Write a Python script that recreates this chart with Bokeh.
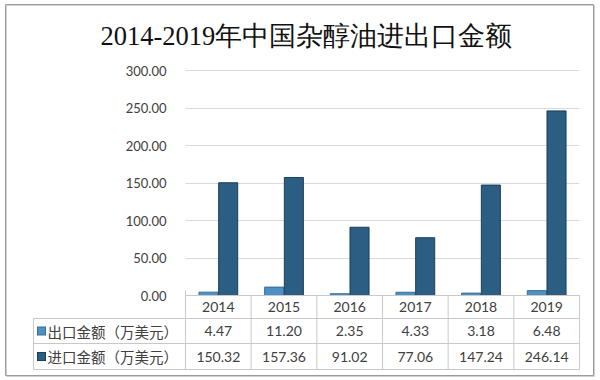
from bokeh.plotting import figure
from bokeh.models import Range1d, FixedTicker, NumeralTickFormatter, ColumnDataSource
from bokeh.core.properties import value
from bokeh.embed import file_html
from bokeh.resources import INLINE

# ---------------- data ----------------
title_text = "2014-2019年中国杂醇油进出口金额"
years = ["2014", "2015", "2016", "2017", "2018", "2019"]
export_vals = [4.47, 11.20, 2.35, 4.33, 3.18, 6.48]
import_vals = [150.32, 157.36, 91.02, 77.06, 147.24, 246.14]
series_names = ["出口金额（万美元）", "进口金额（万美元）"]
y_ticks = [0, 50, 100, 150, 200, 250, 300]

# ---------------- styling / layout ----------------
EXP_FILL, EXP_LINE = "#4f90c3", "#356f9c"
IMP_FILL, IMP_LINE = "#2b5e82", "#1a3f58"
TXT = "#404040"
GRID = "#d9d9d9"
TABLE_LINE = "#c8c8c8"
NUM_FONT = value("Lato")
CJK_FONT = value("Noto Sans CJK SC")

W, H = 598, 378
FRAME_L, FRAME_R = 185, 579
FRAME_T, FRAME_B = 68, 371
ZERO_Y = 295               # pixel row of value 0
n = len(years)
PX_X = (FRAME_R - FRAME_L) / n   # px per category
PX_Y = (ZERO_Y - 70) / 300       # px per value unit (300 sits at y=70)


def ydata(py):
    """data y for pixel row py"""
    return (ZERO_Y - py) / PX_Y


def xdata(px):
    """data x for pixel column px"""
    return (px - FRAME_L) / PX_X


row_bounds = [ydata(295), ydata(318), ydata(343), ydata(369)]
row_centers = [(row_bounds[i] + row_bounds[i + 1]) / 2 for i in range(3)]
label_left = xdata(33)

p = figure(
    width=W, height=H,
    frame_width=FRAME_R - FRAME_L, frame_height=FRAME_B - FRAME_T,
    min_border_left=FRAME_L, min_border_right=W - FRAME_R,
    min_border_top=FRAME_T, min_border_bottom=H - FRAME_B,
    x_range=Range1d(0, n), y_range=Range1d(ydata(FRAME_B), ydata(FRAME_T)),
    x_axis_location=None,
    output_backend="svg", toolbar_location=None, title=title_text,
)
p.background_fill_color = "white"
p.border_fill_color = "white"
p.outline_line_color = None

p.title.align = "left"
p.title.offset = -85
p.title.text_font = "Liberation Serif"
p.title.text_font_style = "normal"
p.title.text_font_size = "26.5px"
p.title.text_color = "#111111"
p.title.standoff = 36

p.xgrid.visible = False
p.ygrid.ticker = FixedTicker(ticks=y_ticks)
p.ygrid.grid_line_color = GRID

yax = p.yaxis[0]
yax.ticker = FixedTicker(ticks=y_ticks)
yax.formatter = NumeralTickFormatter(format="0.00")
yax.axis_line_color = None
yax.major_tick_line_color = None
yax.minor_tick_line_color = None
yax.major_label_standoff = 13
yax.major_label_text_font = "Lato"
yax.major_label_text_font_size = "13px"
yax.major_label_text_color = TXT

cx = [i + 0.5 for i in range(n)]
src = ColumnDataSource(dict(
    xe=[c - 0.15 for c in cx], xi=[c + 0.15 for c in cx], x=cx,
    exp=export_vals, imp=import_vals, year=years,
    exp_t=[f"{v:.2f}" for v in export_vals],
    imp_t=[f"{v:.2f}" for v in import_vals],
))

p.vbar(x="xe", top="exp", bottom=0, width=0.29, source=src,
       fill_color=EXP_FILL, line_color=EXP_LINE, line_width=1)
p.vbar(x="xi", top="imp", bottom=0, width=0.29, source=src,
       fill_color=IMP_FILL, line_color=IMP_LINE, line_width=1)

# ---------------- data table ----------------
hx0 = [0, label_left, label_left, label_left]
hx1 = [n] * 4
p.segment(x0=hx0, x1=hx1, y0=row_bounds, y1=row_bounds,
          line_color=TABLE_LINE, line_width=1, level="overlay")
vx = list(range(n + 1)) + [label_left]
vy0 = [ydata(290)] + [row_bounds[0]] * n + [row_bounds[1]]
vy1 = [row_bounds[3]] * (n + 2)
p.segment(x0=vx, x1=vx, y0=vy0, y1=vy1,
          line_color=TABLE_LINE, line_width=1, level="overlay")

common = dict(text_align="center", text_baseline="middle", text_color=TXT,
              text_font=NUM_FONT, text_font_size="14px", source=src, level="overlay")
p.text(x="x", y=row_centers[0], text="year", **common)
p.text(x="x", y=row_centers[1], text="exp_t", **common)
p.text(x="x", y=row_centers[2], text="imp_t", **common)

# row headers: colour key squares (thick short segments) + series names
key_y = row_centers[1:]
p.segment(x0=[xdata(36.5)] * 2, x1=[xdata(45.5)] * 2, y0=key_y, y1=key_y,
          line_color=[EXP_LINE, IMP_LINE], line_width=9, line_cap="butt", level="overlay")
p.segment(x0=[xdata(37.5)] * 2, x1=[xdata(44.5)] * 2, y0=key_y, y1=key_y,
          line_color=[EXP_FILL, IMP_FILL], line_width=7, line_cap="butt", level="overlay")
p.text(x=[xdata(47)] * 2, y=key_y, text=series_names,
       text_align="left", text_baseline="middle", text_color=TXT,
       text_font=CJK_FONT, text_font_size="14.5px", level="overlay")

# ---------------- outer chart border ----------------
p.quad(left=[xdata(6)], right=[xdata(594)], top=[ydata(5)], bottom=[ydata(376)],
       fill_color=None, line_color="#d0d0d0", line_width=1, level="overlay")
p.quad(left=[xdata(5)], right=[xdata(593)], top=[ydata(4)], bottom=[ydata(375)],
       fill_color=None, line_color="#9c9c9c", line_width=1, level="overlay")

open("out.html", "w").write(file_html(p, INLINE))
